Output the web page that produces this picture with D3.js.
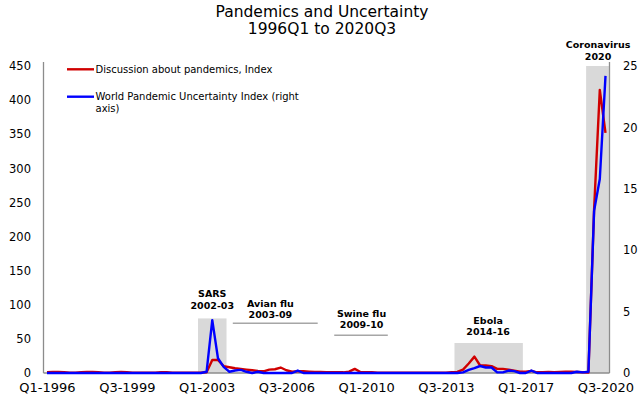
<!DOCTYPE html>
<html>
<head>
<meta charset="utf-8">
<script src="https://cdn.jsdelivr.net/npm/d3@7"></script>
<style>
  body { margin: 0; background: #fff; }
  text { font-family: "DejaVu Sans", sans-serif; fill: #000; }
</style>
</head>
<body>
<svg id="chart"></svg>
<script>
// chart size and plot frame
const width = 642, height = 399;
const plotLeft = 47, plotRight = 605.5, plotTop = 66, plotBottom = 373;

// quarters from 1996Q1 to 2020Q3
const startYear = 1996, quarterCount = 99;
const quarters = d3.range(quarterCount).map(i => `Q${i % 4 + 1}-${startYear + Math.floor(i / 4)}`);

const xTickLabels = ["Q1-1996", "Q3-1999", "Q1-2003", "Q3-2006", "Q1-2010", "Q3-2013", "Q1-2017", "Q3-2020"];
const leftTicks = [0, 50, 100, 150, 200, 250, 300, 350, 400, 450];
const rightTicks = [0, 5, 10, 15, 20, 25];

// Discussion about pandemics, Index (left axis)
const discussion = [
  1, 1.5, 1.5, 1, 0.5, 0.5, 1, 1.5, 1.5, 1,
  0.5, 0.5, 1, 1.5, 1, 0.5, 0.5, 0.5, 0.5, 0.5,
  1, 1, 0.5, 0.5, 0.5, 0.5, 0.5, 0.5, 1, 19,
  19, 10, 8.5, 7, 6, 5, 4, 3, 2.5, 5,
  5.5, 8, 4, 2, 2.5, 2.5, 2, 1.5, 1.5, 1,
  1, 1, 1, 2, 6, 1.5, 1, 1, 0.5, 0.5,
  0.5, 0.5, 0.5, 0.5, 0.5, 0.5, 0.5, 0.5, 0.5, 0.5,
  0.5, 1, 1.5, 5, 14, 24, 11, 11, 10, 6,
  6, 5, 3.5, 2, 2, 3, 1, 1, 1.5, 1,
  1.5, 2, 2, 1.5, 1, 0.5, 240, 415, 352
];

// World Pandemic Uncertainty Index (right axis)
const wpui = [
  0, 0, 0, 0, 0, 0, 0, 0, 0, 0,
  0, 0, 0, 0, 0, 0, 0, 0, 0, 0,
  0, 0, 0, 0, 0, 0, 0, 0, 0.1, 4.3,
  1.2, 0.5, 0.1, 0.2, 0.25, 0.1, 0, 0.1, 0, 0,
  0, 0, 0, 0, 0.2, 0, 0, 0, 0, 0,
  0, 0, 0, 0, 0, 0, 0, 0, 0, 0,
  0, 0, 0, 0, 0, 0, 0, 0, 0, 0,
  0, 0, 0, 0.05, 0.25, 0.4, 0.57, 0.45, 0.45, 0.05,
  0.05, 0.2, 0.15, 0, 0, 0.2, 0, 0, 0, 0,
  0, 0, 0, 0.1, 0.05, 0.1, 13.2, 15.8, 24.2
];

// shaded episodes: quarter index span and height on the left axis
const bandNames = ["SARS", "Ebola", "Coronavirus"];
const bandStart = [26.5, 71.5, 94.6];
const bandEnd = [31.5, 83.5, 98.6];
const bandTop = [80, 44, 450];

// episode labels (index / left-axis value of the first line's baseline)
const notes = [
  { lines: ["SARS", "2002-03"], at: 29, value: 111 },
  { lines: ["Avian flu", "2003-09"], at: 39.2, value: 97 },
  { lines: ["Swine flu", "2009-10"], at: 55.2, value: 82 },
  { lines: ["Ebola", "2014-16"], at: 77.4, value: 72 },
  { lines: ["Coronavirus", "2020"], at: 96.7, value: 476 }
];
// underline rules for the episodes without shading
const rules = [
  { from: 32.6, to: 47.5, value: 73 },
  { from: 50.4, to: 59.8, value: 55.5 }
];

const x = d3.scaleLinear([0, quarterCount - 1], [plotLeft, plotRight]);
const yLeft = d3.scaleLinear([0, 450], [plotBottom, plotTop]);
const yRight = d3.scaleLinear([0, 25], [plotBottom, plotTop]);

const svg = d3.select("#chart")
  .attr("width", width)
  .attr("height", height)
  .attr("viewBox", [0, 0, width, height]);

// title
svg.append("text")
  .attr("x", 322).attr("y", 16.5)
  .attr("text-anchor", "middle")
  .style("font-size", "15.5px")
  .text("Pandemics and Uncertainty");
svg.append("text")
  .attr("x", 322).attr("y", 34)
  .attr("text-anchor", "middle")
  .style("font-size", "15.5px")
  .text("1996Q1 to 2020Q3");

// grey bands
svg.append("g")
  .selectAll("rect")
  .data(bandNames)
  .join("rect")
    .attr("x", (d, i) => x(bandStart[i]))
    .attr("width", (d, i) => x(bandEnd[i]) - x(bandStart[i]))
    .attr("y", (d, i) => yLeft(bandTop[i]))
    .attr("height", (d, i) => plotBottom - yLeft(bandTop[i]))
    .attr("fill", "#d9d9d9");

// axes
svg.append("g")
  .attr("transform", `translate(43.5,0)`)
  .call(d3.axisLeft(yLeft).tickValues(leftTicks).tickSize(0).tickPadding(12.5))
  .call(g => g.select(".domain").attr("stroke", "#8c8c8c").attr("stroke-width", 1.3)
      .attr("d", `M0,${plotBottom}V62`))
  .call(g => g.selectAll("text").style("font-size", "11.5px").attr("fill", "#000"));

svg.append("g")
  .attr("transform", `translate(609.5,0)`)
  .call(d3.axisRight(yRight).tickValues(rightTicks).tickSize(0).tickPadding(13.5))
  .call(g => g.select(".domain").attr("stroke", "#8c8c8c").attr("stroke-width", 1.3)
      .attr("d", `M0,${plotBottom}V62`))
  .call(g => g.selectAll("text").style("font-size", "11.5px").attr("fill", "#000"));

svg.append("g")
  .attr("transform", `translate(0,${plotBottom})`)
  .call(d3.axisBottom(x)
      .tickValues(xTickLabels.map(l => quarters.indexOf(l)))
      .tickFormat(i => quarters[i])
      .tickSize(0).tickPadding(9.8))
  .call(g => g.select(".domain").attr("stroke", "#8c8c8c").attr("stroke-width", 1.3)
      .attr("d", `M43.5,0H609.5`))
  .call(g => g.selectAll("text").style("font-size", "13px").attr("fill", "#000"));

// episode rules and labels
svg.append("g")
  .selectAll("line")
  .data(rules)
  .join("line")
    .attr("x1", d => x(d.from)).attr("x2", d => x(d.to))
    .attr("y1", d => yLeft(d.value)).attr("y2", d => yLeft(d.value))
    .attr("stroke", "#a6a6a6").attr("stroke-width", 1.5);

const noteG = svg.append("g")
  .selectAll("text")
  .data(notes)
  .join("text")
    .attr("text-anchor", "middle")
    .attr("x", d => x(d.at))
    .attr("y", d => yLeft(d.value))
    .style("font-size", "9.5px")
    .style("font-weight", "bold");
noteG.selectAll("tspan")
  .data(d => d.lines.map((t, k) => ({ t, k, at: d.at })))
  .join("tspan")
    .attr("x", d => x(d.at))
    .attr("dy", d => d.k === 0 ? 0 : 11.3)
    .text(d => d.t);

// series lines
const redLine = d3.line().x((d, i) => x(i)).y(d => yLeft(d));
const blueLine = d3.line().x((d, i) => x(i)).y(d => yRight(d));

svg.append("path")
  .datum(discussion)
  .attr("fill", "none")
  .attr("stroke", "#d00000")
  .attr("stroke-width", 2.4)
  .attr("stroke-linejoin", "round")
  .attr("d", redLine);

svg.append("path")
  .datum(wpui)
  .attr("fill", "none")
  .attr("stroke", "#0000ff")
  .attr("stroke-width", 2.4)
  .attr("stroke-linejoin", "round")
  .attr("d", blueLine);

// legend
const legendItems = [
  { color: "#d00000", lines: ["Discussion about pandemics, Index"], y: 69.3 },
  { color: "#0000ff", lines: ["World Pandemic Uncertainty Index (right", "axis)"], y: 96.7 }
];
const legend = svg.append("g");
legendItems.forEach(item => {
  legend.append("line")
    .attr("x1", 67).attr("x2", 94)
    .attr("y1", item.y).attr("y2", item.y)
    .attr("stroke", item.color).attr("stroke-width", 2.4);
  const t = legend.append("text")
    .attr("x", 95.5).attr("y", item.y + 3.6)
    .style("font-size", "10px");
  item.lines.forEach((l, k) => {
    t.append("tspan").attr("x", 95.5).attr("dy", k === 0 ? 0 : 11.5).text(l);
  });
});
</script>
</body>
</html>
